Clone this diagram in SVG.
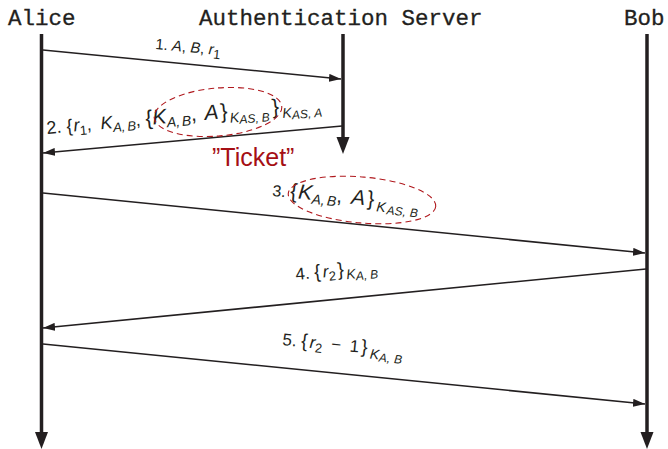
<svg xmlns="http://www.w3.org/2000/svg" width="668" height="449" viewBox="0 0 668 449">
  <style>
    .hdr { font-family: "Liberation Mono", "DejaVu Sans Mono", monospace; font-size: 22.5px; fill: #231f20; stroke: #231f20; stroke-width: 0.3; }
    .lab { font-family: "Liberation Sans", Arial, sans-serif; font-size: 17px; fill: #231f20; }
    .i { font-style: italic; }
    .br { font-size: 19px; }
    .big { font-size: 21px; }
    .s { font-size: 13px; }
    .s14 { font-size: 14px; }
    .ss { font-size: 12px; }
    .life { stroke: #231f20; stroke-width: 3.5; fill: none; }
    .head { fill: #231f20; }
    .msg { stroke: #231f20; stroke-width: 1.6; fill: none; marker-end: url(#arr); }
    .ring { fill: none; stroke: #b0191e; stroke-width: 1.1; stroke-dasharray: 6 4; }
    .ticket { font-family: "Liberation Sans", Arial, sans-serif; font-size: 25px; fill: #a50f15; }
  </style>
  <defs>
    <marker id="arr" viewBox="0 0 12 8" refX="12" refY="4" markerWidth="12" markerHeight="8" markerUnits="userSpaceOnUse" orient="auto">
      <path d="M0,0 L12,4 L0,8 Z" fill="#231f20"/>
    </marker>
  </defs>

  <!-- participants with their lifelines -->
  <g id="alice">
    <text class="hdr" x="8" y="25">Alice</text>
    <line class="life" x1="41.5" y1="34" x2="41.5" y2="434"/>
    <path class="head" d="M35,432 L48,432 L41.5,449 Z"/>
  </g>
  <g id="server">
    <text class="hdr" x="199" y="25">Authentication Server</text>
    <line class="life" x1="343" y1="34" x2="343" y2="139"/>
    <path class="head" d="M336.5,137 L349.5,137 L343,154 Z"/>
  </g>
  <g id="bob">
    <text class="hdr" x="624" y="25">Bob</text>
    <line class="life" x1="647" y1="34" x2="647" y2="434"/>
    <path class="head" d="M640.5,432 L653.5,432 L647,449 Z"/>
  </g>

  <!-- messages -->
  <g id="connectors">
    <line class="msg" x1="43" y1="50" x2="341" y2="79"/>
    <line class="msg" x1="342" y1="126" x2="43" y2="153"/>
    <line class="msg" x1="43" y1="193" x2="645" y2="253"/>
    <line class="msg" x1="646" y1="269" x2="43" y2="328"/>
    <line class="msg" x1="43" y1="344" x2="645" y2="404"/>
  </g>

  <!-- message labels -->
  <g id="label1">
    <text class="lab" style="font-size:15px" transform="translate(155,49) rotate(5.5)">1. <tspan class="i">A</tspan>, <tspan class="i">B</tspan>, <tspan class="i">r</tspan><tspan class="s" dy="4">1</tspan></text>
  </g>

  <g id="label2">
    <text class="lab" style="font-size:18px" transform="translate(47,134) rotate(-5.1)">2. {<tspan class="i" dx="1">r</tspan><tspan class="s" dy="4">1</tspan><tspan dy="-4">, </tspan><tspan class="i" dx="4">K</tspan><tspan class="s i" dy="4">A,<tspan dx="2">B</tspan></tspan><tspan dy="-4">, </tspan><tspan class="big">{</tspan><tspan class="big i">K</tspan><tspan class="s14 i" dy="4">A,<tspan dx="2">B</tspan></tspan><tspan class="big" dy="-4">, </tspan><tspan class="big i" dx="2">A</tspan><tspan class="big" dx="2">}</tspan><tspan class="s14 i" dx="2" dy="5">K</tspan><tspan class="ss i" dy="2">AS,<tspan dx="3">B</tspan></tspan><tspan class="big" dx="3" dy="-7">}</tspan><tspan class="s14 i" dx="3" dy="5">K</tspan><tspan class="ss i" dy="2">AS,<tspan dx="3">A</tspan></tspan></text>
    <ellipse class="ring" cx="218" cy="112" rx="64" ry="24" transform="rotate(-5 218 112)"/>
    <text class="ticket" x="212" y="166">”Ticket”</text>
  </g>

  <g id="label3">
    <text class="lab" style="font-size:16px" transform="translate(272,196) rotate(5.6)">3. <tspan class="big">{</tspan><tspan class="big i" dx="1">K</tspan><tspan class="s14 i" dy="4">A,<tspan dx="2">B</tspan></tspan><tspan class="big" dy="-4">, </tspan><tspan class="big i" dx="3">A</tspan><tspan class="big" dx="2">}</tspan><tspan class="s14 i" dx="3" dy="5">K</tspan><tspan class="ss i" dx="1" dy="2">AS,<tspan dx="4">B</tspan></tspan></text>
    <ellipse class="ring" cx="362" cy="200" rx="74" ry="23" transform="rotate(5 362 200)"/>
  </g>

  <g id="label4">
    <text class="lab" transform="translate(296,280) rotate(-5.5)">4. <tspan class="br">{</tspan><tspan class="i" dx="2">r</tspan><tspan class="s" dy="4">2</tspan><tspan class="br" dx="2" dy="-4">}</tspan><tspan class="s14 i" dx="2" dy="4">K</tspan><tspan class="ss i" dy="2">A,<tspan dx="3">B</tspan></tspan></text>
  </g>

  <g id="label5">
    <text class="lab" transform="translate(282,345) rotate(5.6)">5. <tspan class="br">{</tspan><tspan class="i" dx="2">r</tspan><tspan class="s" dy="4">2</tspan><tspan dx="4" dy="-4"> − </tspan><tspan dx="4">1</tspan><tspan class="br" dx="2">}</tspan><tspan class="s14 i" dx="3" dy="5">K</tspan><tspan class="ss i" dy="2">A,<tspan dx="4">B</tspan></tspan></text>
  </g>
</svg>
